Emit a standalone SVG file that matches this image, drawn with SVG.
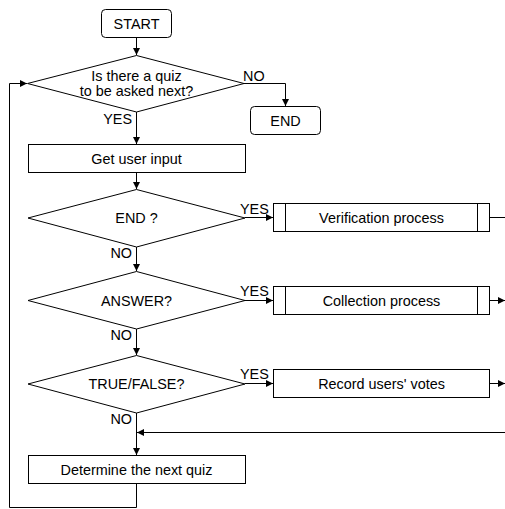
<svg xmlns="http://www.w3.org/2000/svg" width="505" height="509" viewBox="0 0 505 509">
<style>
.s{fill:#fff;stroke:#000;stroke-width:1}
.c{fill:none;stroke:#000;stroke-width:1}
text{font-family:"Liberation Sans",Arial,sans-serif;font-size:14.4px;fill:#000}
.m{text-anchor:middle}
.e{text-anchor:end}
</style>
<defs>
<marker id="a" markerUnits="userSpaceOnUse" markerWidth="8" markerHeight="8" refX="7" refY="3.5" orient="auto">
<path d="M0,0 L7,3.5 L0,7 z" fill="#000"/>
</marker>
</defs>
<rect width="505" height="509" fill="#fff"/>
<g id="connectors">
<path class="c" d="M136.5,37.5 V55" marker-end="url(#a)"/>
<path class="c" d="M244,83.5 H285.5 V106" marker-end="url(#a)"/>
<path class="c" d="M136.5,112 V144" marker-end="url(#a)"/>
<path class="c" d="M136.5,172.5 V189" marker-end="url(#a)"/>
<path class="c" d="M245,217.5 H273" marker-end="url(#a)"/>
<path class="c" d="M489.5,217.5 H505"/>
<path class="c" d="M136.5,247 V271" marker-end="url(#a)"/>
<path class="c" d="M245,300.5 H273" marker-end="url(#a)"/>
<path class="c" d="M489.5,300.5 H505" marker-end="url(#a)"/>
<path class="c" d="M136.5,329 V355" marker-end="url(#a)"/>
<path class="c" d="M245,383.5 H273" marker-end="url(#a)"/>
<path class="c" d="M489.5,383.5 H505" marker-end="url(#a)"/>
<path class="c" d="M136.5,413 V455" marker-end="url(#a)"/>
<path class="c" d="M505,432.5 H137" marker-end="url(#a)"/>
<path class="c" d="M136.5,483.5 V507.5 H9.5 V83.5 H27" marker-end="url(#a)"/>
<text x="243" y="81">NO</text>
<text x="132" y="124" class="e">YES</text>
<text x="132" y="258" class="e">NO</text>
<text x="132" y="340" class="e">NO</text>
<text x="132" y="424" class="e">NO</text>
<text x="240" y="214">YES</text>
<text x="240" y="296">YES</text>
<text x="240" y="379">YES</text>
</g>
<g id="start">
<rect class="s" x="101.5" y="9.5" width="70" height="28" rx="4"/>
<text x="136.5" y="28.5" class="m">START</text>
</g>
<g id="quiz-next">
<polygon class="s" points="136.5,55.5 244,83.5 136.5,112 27.5,83.5"/>
<text x="136.5" y="81" class="m">Is there a quiz</text>
<text x="136.5" y="96" class="m">to be asked next?</text>
</g>
<g id="end">
<rect class="s" x="250.5" y="106.5" width="70" height="28" rx="4"/>
<text x="285.5" y="125.5" class="m">END</text>
</g>
<g id="get-input">
<rect class="s" x="28.5" y="144.5" width="217" height="28"/>
<text x="136.5" y="163.5" class="m">Get user input</text>
</g>
<g id="end-q">
<polygon class="s" points="136.5,189.5 245,218 136.5,247 28,218"/>
<text x="136.5" y="223" class="m">END ?</text>
</g>
<g id="verification">
<rect class="s" x="273.5" y="203.5" width="216" height="28"/>
<path class="c" d="M285.5,203.5 V231.5 M477.5,203.5 V231.5"/>
<text x="381.5" y="223" class="m">Verification process</text>
</g>
<g id="answer-q">
<polygon class="s" points="136.5,271.5 245,300.5 136.5,329 28,300.5"/>
<text x="136.5" y="305.5" class="m">ANSWER?</text>
</g>
<g id="collection">
<rect class="s" x="273.5" y="286.5" width="216" height="28"/>
<path class="c" d="M285.5,286.5 V314.5 M477.5,286.5 V314.5"/>
<text x="381.5" y="305.5" class="m">Collection process</text>
</g>
<g id="truefalse-q">
<polygon class="s" points="136.5,355.5 245,384 136.5,413 28,384"/>
<text x="136.5" y="389" class="m">TRUE/FALSE?</text>
</g>
<g id="record">
<rect class="s" x="273.5" y="369.5" width="216" height="28"/>
<text x="381.5" y="388.5" class="m">Record users' votes</text>
</g>
<g id="determine">
<rect class="s" x="28.5" y="455.5" width="217" height="28"/>
<text x="136.5" y="474.5" class="m">Determine the next quiz</text>
</g>
</svg>
